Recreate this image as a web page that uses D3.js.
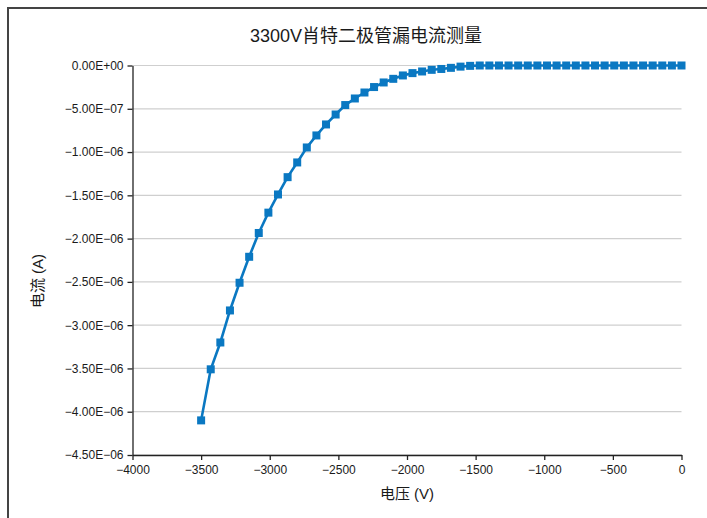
<!DOCTYPE html>
<html>
<head>
<meta charset="utf-8">
<script src="https://cdn.jsdelivr.net/npm/d3@7"></script>
<style>
  body { margin: 0; background: #fff; }
  svg text { font-family: "Liberation Sans", Arial, "Noto Sans CJK SC", sans-serif; fill: #1a1a1a; }
  .title, .axis-label { font-family: "Liberation Sans", "Noto Sans CJK SC", sans-serif; }
</style>
</head>
<body>
<svg id="chart" width="707" height="518"></svg>
<script>
// 电压 (V), 从 -3500 到 0
const voltage = [
  -3500, -3430, -3360, -3290, -3220, -3150, -3080, -3010, -2940, -2870,
  -2800, -2730, -2660, -2590, -2520, -2450, -2380, -2310, -2240, -2170,
  -2100, -2030, -1960, -1890, -1820, -1750, -1680, -1610, -1540, -1470,
  -1400, -1330, -1260, -1190, -1120, -1050, -980, -910, -840, -770,
  -700, -630, -560, -490, -420, -350, -280, -210, -140, -70, 0
];
// 电流 (A), 单位 1e-6
const currentMicro = [
  -4.10, -3.51, -3.20, -2.83, -2.51, -2.21, -1.935, -1.70, -1.49, -1.29,
  -1.12, -0.947, -0.808, -0.681, -0.566, -0.457, -0.381, -0.312, -0.249, -0.196,
  -0.154, -0.115, -0.088, -0.069, -0.050, -0.040, -0.027, -0.013, -0.004, 0,
  0, 0, 0, 0, 0, 0, 0, 0, 0, 0,
  0, 0, 0, 0, 0, 0, 0, 0, 0, 0, 0
];
const xTicks = [-4000, -3500, -3000, -2500, -2000, -1500, -1000, -500, 0];
const yTicks = [0, -0.5e-6, -1e-6, -1.5e-6, -2e-6, -2.5e-6, -3e-6, -3.5e-6, -4e-6, -4.5e-6];

const data = voltage.map((v, i) => ({ v: v, i: currentMicro[i] * 1e-6 }));

const svg = d3.select('#chart');
const margin = { top: 65.5, left: 132.5, right: 25.5, bottom: 63 };
const width = 707, height = 518;

// outer frame
svg.append('rect')
  .attr('x', 8).attr('y', 8)
  .attr('width', 740).attr('height', 560)
  .attr('fill', 'none')
  .attr('stroke', '#444')
  .attr('stroke-width', 2);

const xScale = d3.scaleLinear()
  .domain([-4000, 0])
  .range([margin.left, width - margin.right]);
const yScale = d3.scaleLinear()
  .domain([-4.5e-6, 0])
  .range([height - margin.bottom, margin.top]);

const minus = s => s.replace(/-/g, '\u2212');
const fmtY = d => {
  if (d === 0) return '0.00E+00';
  const s = d.toExponential(2).toUpperCase(); // e.g. -5.00E-7
  const m = s.match(/^(-?[\d.]+)E([+-])(\d+)$/);
  return minus(m[1] + 'E' + m[2] + m[3].padStart(2, '0'));
};

// gridlines
svg.append('g')
  .selectAll('line')
  .data(yTicks)
  .join('line')
  .attr('x1', margin.left).attr('x2', width - margin.right)
  .attr('y1', d => yScale(d)).attr('y2', d => yScale(d))
  .attr('stroke', '#cfcfcf')
  .attr('stroke-width', 1.2);

const xAxis = svg.append('g')
  .attr('transform', 'translate(0,' + yScale(-4.5e-6) + ')')
  .call(d3.axisBottom(xScale).tickValues(xTicks).tickSize(5).tickSizeOuter(0)
    .tickFormat(d => minus(String(d))));
xAxis.select('.domain').attr('stroke', '#222').attr('stroke-width', 1.3);
xAxis.selectAll('.tick line').attr('stroke', '#222').attr('stroke-width', 1.3);
xAxis.selectAll('.tick text').attr('font-size', 12).attr('dy', '1em').attr('y', 7);

const yAxis = svg.append('g')
  .attr('transform', 'translate(' + margin.left + ',0)')
  .call(d3.axisLeft(yScale).tickValues(yTicks).tickSize(5).tickSizeOuter(0)
    .tickFormat(fmtY));
yAxis.select('.domain').attr('stroke', '#222').attr('stroke-width', 1.3);
yAxis.selectAll('.tick line').attr('stroke', '#222').attr('stroke-width', 1.3);
yAxis.selectAll('.tick text').attr('font-size', 12).attr('x', -9);

// series line
const line = d3.line().x(d => xScale(d.v)).y(d => yScale(d.i));
svg.append('path')
  .datum(data)
  .attr('fill', 'none')
  .attr('stroke', '#0a78c2')
  .attr('stroke-width', 2.6)
  .attr('d', line);

// square markers
const ms = 8;
svg.append('g')
  .selectAll('rect')
  .data(data)
  .join('rect')
  .attr('x', d => xScale(d.v) - ms / 2)
  .attr('y', d => yScale(d.i) - ms / 2)
  .attr('width', ms).attr('height', ms)
  .attr('fill', '#0a78c2');

// title and axis labels
svg.append('text')
  .attr('class', 'title')
  .attr('x', 366).attr('y', 42)
  .attr('text-anchor', 'middle')
  .attr('font-size', 18)
  .text('3300V肖特二极管漏电流测量');

svg.append('text')
  .attr('class', 'axis-label')
  .attr('x', (margin.left + width - margin.right) / 2)
  .attr('y', 499)
  .attr('text-anchor', 'middle')
  .attr('font-size', 15)
  .text('电压 (V)');

svg.append('text')
  .attr('class', 'axis-label')
  .attr('transform', 'translate(43,281) rotate(-90)')
  .attr('text-anchor', 'middle')
  .attr('font-size', 15)
  .text('电流 (A)');
</script>
</body>
</html>
